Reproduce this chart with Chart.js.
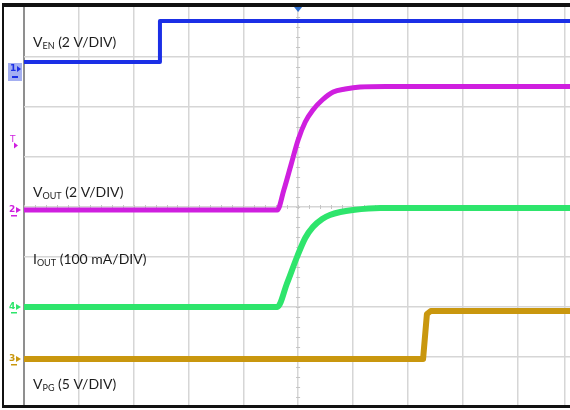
<!DOCTYPE html>
<html>
<head>
<meta charset="utf-8">
<script src="https://cdn.jsdelivr.net/npm/chart.js@4/dist/chart.umd.min.js"></script>
<style>
  html, body { margin: 0; padding: 0; background: #fff; overflow: hidden; }
  #scope { display: block; }
</style>
</head>
<body>
<canvas id="scope" width="570" height="410"></canvas>
<script>
// Time axis in screen divisions (10 div across), levels in vertical divisions (8 div tall).
const venTime   = [0, 2.48, 2.48, 9.96];
const venLevel  = [6.90, 6.90, 7.72, 7.72];

const voutTime  = [0, 4.62, 4.74, 4.87, 5.00, 5.13, 5.27, 5.44, 5.64, 5.86, 6.13, 6.60, 9.96];
const voutLevel = [3.94, 3.94, 4.34, 4.84, 5.34, 5.70, 5.94, 6.14, 6.30, 6.36, 6.40, 6.41, 6.41];

const ioutTime  = [0, 4.62, 4.80, 4.98, 5.13, 5.27, 5.44, 5.58, 5.77, 6.00, 6.50, 9.96];
const ioutLevel = [2.00, 2.00, 2.48, 3.00, 3.38, 3.60, 3.76, 3.84, 3.90, 3.94, 3.98, 3.98];

const vpgTime   = [0, 7.28, 7.35, 7.42, 9.96];
const vpgLevel  = [0.96, 0.96, 1.86, 1.92, 1.92];

const traceLabels = [
  { main: 'V', sub: 'EN',  rest: ' (2 V/DIV)',     level: 7.20 },
  { main: 'V', sub: 'OUT', rest: ' (2 V/DIV)',     level: 4.20 },
  { main: 'I', sub: 'OUT', rest: ' (100 mA/DIV)',  level: 2.87 },
  { main: 'V', sub: 'PG',  rest: ' (5 V/DIV)',     level: 0.36 }
];

const vGridTicks = [0, 1, 2, 3, 4, 5, 6, 7, 8, 9, 9.87];

const BLUE = '#1b2fe6', MAGENTA = '#cf1fdf', GREEN = '#2ee56c', GOLD = '#c9970e';

function pts(t, v) { return t.map((x, i) => ({ x: x, y: v[i] })); }

// Bezel, channel markers, center ticks and annotations drawn around the grid.
const scopeDecor = {
  id: 'scopeDecor',
  beforeDraw(chart) {
    const c = chart.ctx;
    c.save();
    c.fillStyle = '#fff';
    c.fillRect(0, 0, chart.width, chart.height);
    c.restore();
  },
  beforeDatasetsDraw(chart) {
    const c = chart.ctx, xs = chart.scales.x, ys = chart.scales.y;
    c.save();
    c.strokeStyle = '#c4c4c4';
    c.lineWidth = 1;
    const cx = xs.getPixelForValue(5), cy = ys.getPixelForValue(4);
    for (let v = 0; v <= 8; v += 0.2) {
      const y = Math.round(ys.getPixelForValue(v)) + 0.5;
      c.beginPath(); c.moveTo(cx - 2, y); c.lineTo(cx + 2, y); c.stroke();
    }
    for (let v = 0; v <= 10; v += 0.2) {
      const x = Math.round(xs.getPixelForValue(v)) + 0.5;
      c.beginPath(); c.moveTo(x, cy - 2); c.lineTo(x, cy + 2); c.stroke();
    }
    c.restore();
  },
  afterDraw(chart) {
    const c = chart.ctx, xs = chart.scales.x, ys = chart.scales.y;
    c.save();
    // black bezel
    c.fillStyle = '#111';
    c.fillRect(2, 3, chart.width, 4);
    c.fillRect(2, 3, 2, 405);
    c.fillRect(2, 405, chart.width, 3);

    // trigger position marker
    const tx = xs.getPixelForValue(5);
    c.fillStyle = '#2d6fd0';
    c.beginPath(); c.moveTo(tx - 4, 7); c.lineTo(tx + 4, 7); c.lineTo(tx, 12); c.closePath(); c.fill();

    // channel ground markers
    c.font = 'bold 9px "DejaVu Sans"';
    c.textBaseline = 'middle';
    const mark = (label, color, level, box) => {
      const y = ys.getPixelForValue(level);
      if (box) {
        c.fillStyle = 'rgba(90,110,230,0.55)';
        c.fillRect(8, y + 1, 14, 18);
        c.fillStyle = BLUE;
        c.fillText(label, 10, y + 7);
        c.beginPath(); c.moveTo(17, y + 4); c.lineTo(21, y + 7); c.lineTo(17, y + 10); c.closePath(); c.fill();
        c.fillRect(12, y + 14, 6, 2);
        return;
      }
      c.fillStyle = color;
      c.fillText(label, 9, y);
      c.beginPath(); c.moveTo(16, y - 3); c.lineTo(21, y); c.lineTo(16, y + 3); c.closePath(); c.fill();
      c.fillRect(11, y + 5, 6, 1.5);
    };
    mark('1', BLUE, 6.90, true);
    mark('2', MAGENTA, 3.94);
    mark('4', GREEN, 2.00);
    mark('3', GOLD, 0.96);
    c.fillStyle = MAGENTA;
    c.font = '9px "DejaVu Sans"';
    c.fillText('T', 10, ys.getPixelForValue(5.35));
    c.beginPath();
    const ty = ys.getPixelForValue(5.35) + 6;
    c.moveTo(14, ty - 3); c.lineTo(18, ty); c.lineTo(14, ty + 3); c.closePath(); c.fill();

    // trace annotations with subscripts
    c.fillStyle = '#1c1c1c';
    c.textBaseline = 'alphabetic';
    traceLabels.forEach(l => {
      const y = ys.getPixelForValue(l.level);
      let x = 33;
      c.font = '14px Lato';
      c.fillText(l.main, x, y);
      x += c.measureText(l.main).width;
      c.font = '9px Lato';
      c.fillText(l.sub, x, y + 2);
      x += c.measureText(l.sub).width;
      c.font = '14px Lato';
      c.fillText(l.rest, x, y);
    });
    c.restore();
  }
};

const gridStyle = {
  color: ctx => (ctx.index === 0 ? '#8f8f8f' : '#d6d6d6'),
  lineWidth: ctx => (ctx.index === 0 ? 2 : 1.5),
  drawTicks: false
};

new Chart(document.getElementById('scope'), {
  type: 'scatter',
  data: {
    datasets: [
      { label: 'VEN',  data: pts(venTime, venLevel),   borderColor: BLUE,    borderWidth: 4, tension: 0 },
      { label: 'VOUT', data: pts(voutTime, voutLevel), borderColor: MAGENTA, borderWidth: 5, cubicInterpolationMode: 'monotone' },
      { label: 'IOUT', data: pts(ioutTime, ioutLevel), borderColor: GREEN,   borderWidth: 6, cubicInterpolationMode: 'monotone' },
      { label: 'VPG',  data: pts(vpgTime, vpgLevel),   borderColor: GOLD,    borderWidth: 6, tension: 0 }
    ].map(d => Object.assign(d, { showLine: true, pointRadius: 0, borderCapStyle: 'butt', borderJoinStyle: 'round' }))
  },
  options: {
    responsive: false,
    animation: false,
    devicePixelRatio: 1,
    layout: { padding: { left: 24, top: 7, right: 0, bottom: 3 } },
    plugins: { legend: { display: false }, tooltip: { enabled: false } },
    scales: {
      x: {
        type: 'linear', min: 0, max: 9.96,
        afterBuildTicks: s => { s.ticks = vGridTicks.map(v => ({ value: v })); },
        afterFit: s => { s.height = 0; },
        ticks: { display: false },
        grid: gridStyle,
        border: { display: false }
      },
      y: {
        type: 'linear', min: 0, max: 8,
        ticks: { display: false, stepSize: 1 },
        afterFit: s => { s.width = 0; },
        grid: {
          color: ctx => (ctx.index === 8 ? 'rgba(0,0,0,0)' : '#d6d6d6'),
          lineWidth: 1.5,
          drawTicks: false
        },
        border: { display: false }
      }
    }
  },
  plugins: [scopeDecor]
});
</script>
</body>
</html>
